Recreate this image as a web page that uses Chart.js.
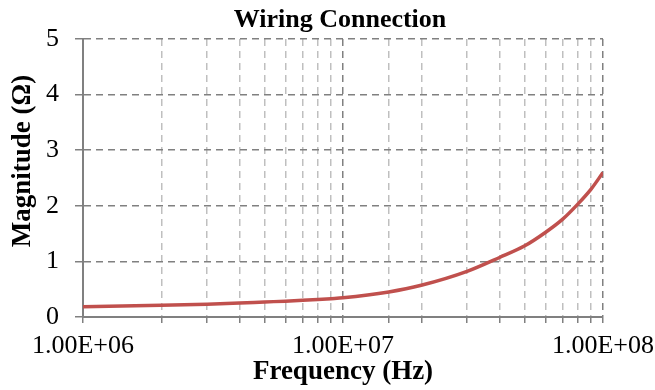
<!DOCTYPE html>
<html>
<head>
<meta charset="utf-8">
<script src="https://cdn.jsdelivr.net/npm/chart.js"></script>
<style>
    body { margin: 0; background: #fff; }
    #wrap { width: 655px; height: 390px; }
</style>
</head>
<body>
<div id="wrap"><canvas id="chart" width="655" height="390"></canvas></div>
<script>
const frequency = [1e6, 2e6, 3e6, 4e6, 5e6, 6e6, 7e6, 8e6, 9e6, 1e7, 1.5e7, 2e7, 3e7, 4e7, 5e7, 6e7, 7e7, 8e7, 9e7, 1e8];
const magnitude = [0.185, 0.21, 0.23, 0.25, 0.27, 0.285, 0.30, 0.315, 0.33, 0.345, 0.45, 0.57, 0.82, 1.07, 1.28, 1.52, 1.76, 2.03, 2.3, 2.6];
const decadeLabels = { 1e6: '1.00E+06', 1e7: '1.00E+07', 1e8: '1.00E+08' };

const chartTitle = 'Wiring Connection';
const yTitle = 'Magnitude (Ω)';

const points = frequency.map((f, i) => ({ x: f, y: magnitude[i] }));

const serif = 'Liberation Serif, Times New Roman, serif';

const isDecade = (v) => Math.abs(Math.log10(v) - Math.round(Math.log10(v))) < 1e-6;

// Excel centres the title over the plot and sits the y title a bit above centre,
// so draw those two ourselves instead of the built-in title boxes
const excelTitles = {
    id: 'excelTitles',
    afterDraw(chart) {
        const { ctx, chartArea } = chart;
        ctx.save();
        ctx.fillStyle = '#000';
        ctx.font = `bold 26px ${serif}`;
        ctx.textAlign = 'center';
        ctx.textBaseline = 'alphabetic';
        ctx.fillText(chartTitle, (chartArea.left + chartArea.right) / 2 - 3, 27);

        ctx.font = `bold 27px ${serif}`;
        ctx.textBaseline = 'middle';
        ctx.translate(23, (chartArea.top + chartArea.bottom) / 2 - 17);
        ctx.rotate(-Math.PI / 2);
        ctx.fillText(yTitle, 0, 0);
        ctx.restore();
    }
};

const ctx = document.getElementById('chart').getContext('2d');
new Chart(ctx, {
    type: 'line',
    data: {
        datasets: [
            {
                data: points,
                borderColor: '#c0504d',
                borderWidth: 3.5,
                pointRadius: 0,
                fill: false,
                cubicInterpolationMode: 'monotone'
            }
        ]
    },
    options: {
        responsive: false,
        animation: false,
        layout: { padding: { left: 0, right: 52, top: 39, bottom: 0 } },
        plugins: {
            legend: { display: false },
            tooltip: { enabled: false },
            title: { display: false }
        },
        scales: {
            x: {
                type: 'logarithmic',
                min: 1e6,
                max: 1e8,
                afterFit: (scale) => {
                    scale.height = 73;
                    // let the end labels hang into the margins like the original
                    scale.paddingLeft = 0;
                    scale.paddingRight = 0;
                },
                ticks: {
                    autoSkip: false,
                    maxRotation: 0,
                    color: '#000',
                    padding: 8,
                    font: { family: serif, size: 26 },
                    callback: (v) => decadeLabels[v] || ''
                },
                grid: {
                    color: (c) => c.tick && isDecade(c.tick.value) ? '#808080' : '#bfbfbf',
                    lineWidth: 1.5,
                    tickLength: 6,
                    tickColor: '#808080'
                },
                border: { color: '#808080', width: 2, dash: [7, 5] },
                title: {
                    display: true,
                    text: 'Frequency (Hz)',
                    color: '#000',
                    font: { family: serif, size: 27, weight: 'bold' },
                    padding: { top: 0, bottom: 2 }
                }
            },
            y: {
                min: 0,
                max: 5,
                afterFit: (scale) => {
                    scale.width = 83;
                    scale.paddingTop = 0;
                },
                ticks: {
                    stepSize: 1,
                    color: '#000',
                    padding: 16,
                    font: { family: serif, size: 26 }
                },
                grid: {
                    color: '#808080',
                    lineWidth: 1.5,
                    tickLength: 8,
                    tickColor: '#808080'
                },
                border: { color: '#808080', width: 2, dash: [7, 5] }
            }
        }
    },
    plugins: [excelTitles]
});
</script>
</body>
</html>
